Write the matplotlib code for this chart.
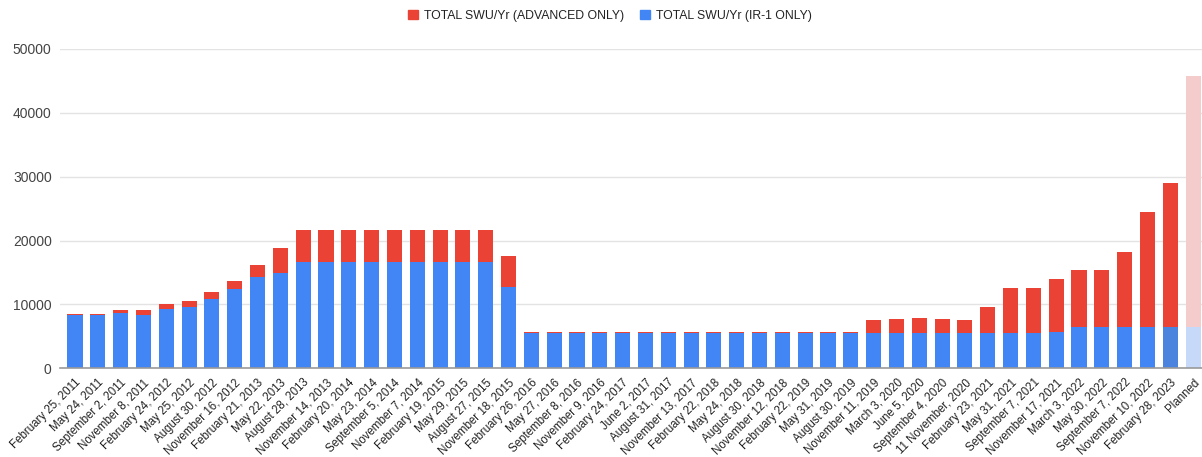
import matplotlib
matplotlib.use("Agg")
import matplotlib.pyplot as plt
from matplotlib.patches import Patch

categories = [
    "February 25, 2011", "May 24, 2011", "September 2, 2011", "November 8, 2011",
    "February 24, 2012", "May 25, 2012", "August 30, 2012", "November 16, 2012",
    "February 21, 2013", "May 22, 2013", "August 28, 2013", "November 14, 2013",
    "February 20, 2014", "May 23, 2014", "September 5, 2014", "November 7, 2014",
    "February 19, 2015", "May 29, 2015", "August 27, 2015", "November 18, 2015",
    "February 26, 2016", "May 27, 2016", "September 8, 2016", "November 9, 2016",
    "February 24, 2017", "June 2, 2017", "August 31, 2017", "November 13, 2017",
    "February 22, 2018", "May 24, 2018", "August 30, 2018", "November 12, 2018",
    "February 22, 2019", "May 31, 2019", "August 30, 2019", "November 11, 2019",
    "March 3, 2020", "June 5, 2020", "September 4, 2020", "11 November, 2020",
    "February 23, 2021", "May 31, 2021", "September 7, 2021", "November 17, 2021",
    "March 3, 2022", "May 30, 2022", "September 7, 2022", "November 10, 2022",
    "February 28, 2023", "Planned",
]

ir1_only = [
    8300, 8300, 8700, 8350, 9300, 9600, 10850, 12400,
    14250, 15000, 16650, 16650, 16650, 16650, 16650, 16650,
    16650, 16650, 16650, 12700, 5500, 5500, 5500, 5500,
    5500, 5500, 5500, 5500, 5500, 5500, 5500, 5500,
    5500, 5500, 5500, 5500, 5500, 5500, 5500, 5500,
    5500, 5500, 5500, 5650, 6400, 6400, 6400, 6400,
    6400, 6400,
]

advanced_only = [
    150, 150, 500, 850, 800, 900, 1050, 1250,
    1900, 3800, 5050, 4950, 4950, 4950, 4950, 5050,
    4950, 5050, 5050, 4900, 250, 250, 250, 250,
    250, 250, 250, 250, 250, 250, 250, 250,
    250, 250, 250, 2050, 2150, 2450, 2200, 2100,
    4150, 7150, 7150, 8400, 9000, 9000, 11850, 18100,
    22650, 39400,
]

yticks = [0, 10000, 20000, 30000, 40000, 50000]

BLUE = "#4285f4"
RED = "#ea4335"
BLUE_LAST = "#4a84de"
BLUE_PLAN = "#c6d9f8"
RED_PLAN = "#f4cccc"

n = len(categories)
x = list(range(n))
blue_colors = [BLUE] * n
red_colors = [RED] * n
blue_colors[-2] = BLUE_LAST
blue_colors[-1] = BLUE_PLAN
red_colors[-1] = RED_PLAN

plt.rcParams["font.family"] = ["Liberation Sans", "DejaVu Sans"]

fig = plt.figure(figsize=(12.02, 4.57), dpi=100)
ax = fig.add_axes([60 / 1202, (457 - 368.3) / 457, 1 - 60 / 1202, (368.3 - 49) / 457])

ax.bar(x, ir1_only, width=0.66, color=blue_colors, zorder=3)
ax.bar(x, advanced_only, bottom=ir1_only, width=0.66, color=red_colors, zorder=3)

ax.set_xlim(-0.658, 49.39)
ax.set_ylim(0, 50000)
ax.set_yticks(yticks)
ax.set_yticklabels([str(v) for v in yticks], fontsize=10, color="#444444")
ax.set_xticks(x)
ax.set_xticklabels(categories, rotation=45, ha="right", rotation_mode="anchor",
                   fontsize=8.3, color="#222222")
ax.tick_params(axis="both", length=0)
ax.tick_params(axis="y", pad=6)
ax.tick_params(axis="x", pad=6)

ax.grid(axis="y", color="#e3e3e3", linewidth=1.0, zorder=0)
for s in ["top", "right", "left"]:
    ax.spines[s].set_visible(False)
ax.spines["bottom"].set_color("#999999")
ax.spines["bottom"].set_linewidth(1.2)
ax.spines["bottom"].set_zorder(4)

handles = [Patch(color=RED, label="TOTAL SWU/Yr (ADVANCED ONLY)"),
           Patch(color=BLUE, label="TOTAL SWU/Yr (IR-1 ONLY)")]
fig.legend(handles=handles, loc="center", bbox_to_anchor=(610 / 1202, 1 - 16 / 457),
           ncol=2, frameon=False, fontsize=8.85, handlelength=0.8, handleheight=0.8,
           handletextpad=0.5, columnspacing=1.3, labelcolor="#222222")

fig.savefig("out.png", dpi=100)
